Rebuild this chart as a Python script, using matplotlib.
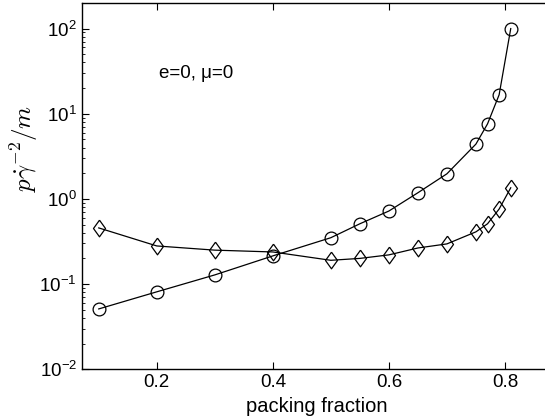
import matplotlib
matplotlib.use("Agg")
import matplotlib.pyplot as plt
from matplotlib.ticker import LogLocator, NullFormatter

plt.rcParams['font.family'] = ['Liberation Sans', 'DejaVu Sans']
plt.rcParams['mathtext.fontset'] = 'cm'

phi = [0.1, 0.2, 0.3, 0.4, 0.5, 0.55, 0.6, 0.65, 0.7, 0.75, 0.77, 0.79, 0.81]
p_circle = [0.051, 0.081, 0.128, 0.214, 0.35, 0.51, 0.72, 1.18, 1.97, 4.4, 7.6, 16.7, 100]
p_diamond = [0.456, 0.28, 0.25, 0.238, 0.19, 0.20, 0.22, 0.265, 0.296, 0.41, 0.51, 0.76, 1.35]
xticks = [0.2, 0.4, 0.6, 0.8]

# slightly elongated diamond marker
diamond = [(0, 1), (0.72, 0), (0, -1), (-0.72, 0), (0, 1)]

fig = plt.figure(figsize=(5.45, 4.2), dpi=100)
ax = fig.add_axes([0.150, 0.121, 0.90, 0.872])

ax.plot(phi, p_circle, color='black', lw=0.9, marker='o', ms=9.2,
        mfc='none', mec='black', mew=0.9)
ax.plot(phi, p_diamond, color='black', lw=0.9, marker=diamond, ms=12,
        mfc='none', mec='black', mew=0.9)

ax.set_yscale('log')
ax.set_ylim(0.01, 200)
ax.set_xlim(0.0707, 0.916)
ax.set_xticks(xticks)
ax.set_xticklabels([f"{v:.1f}" for v in xticks])
ax.yaxis.set_major_locator(LogLocator(base=10, numticks=10))
ax.yaxis.set_minor_locator(LogLocator(base=10, subs=range(2, 10), numticks=20))
ax.yaxis.set_minor_formatter(NullFormatter())

ax.tick_params(which='both', direction='in', top=True, right=False, labelsize=13.5)
ax.tick_params(which='major', length=5)
ax.tick_params(which='minor', length=2.5)
for s in ax.spines.values():
    s.set_linewidth(1.0)

ax.text(0.203, 29.5, "e=0, μ=0", fontsize=13.5, ha='left', va='center')

ax.set_xlabel("packing fraction", fontsize=14.5)
ax.xaxis.set_label_coords(0.479, -0.075)
ax.set_ylabel(r"$p\dot{\gamma}^{-2}/m$", fontsize=18)
ax.yaxis.set_label_coords(-0.085, 0.604)

fig.savefig("out.png", dpi=100)
